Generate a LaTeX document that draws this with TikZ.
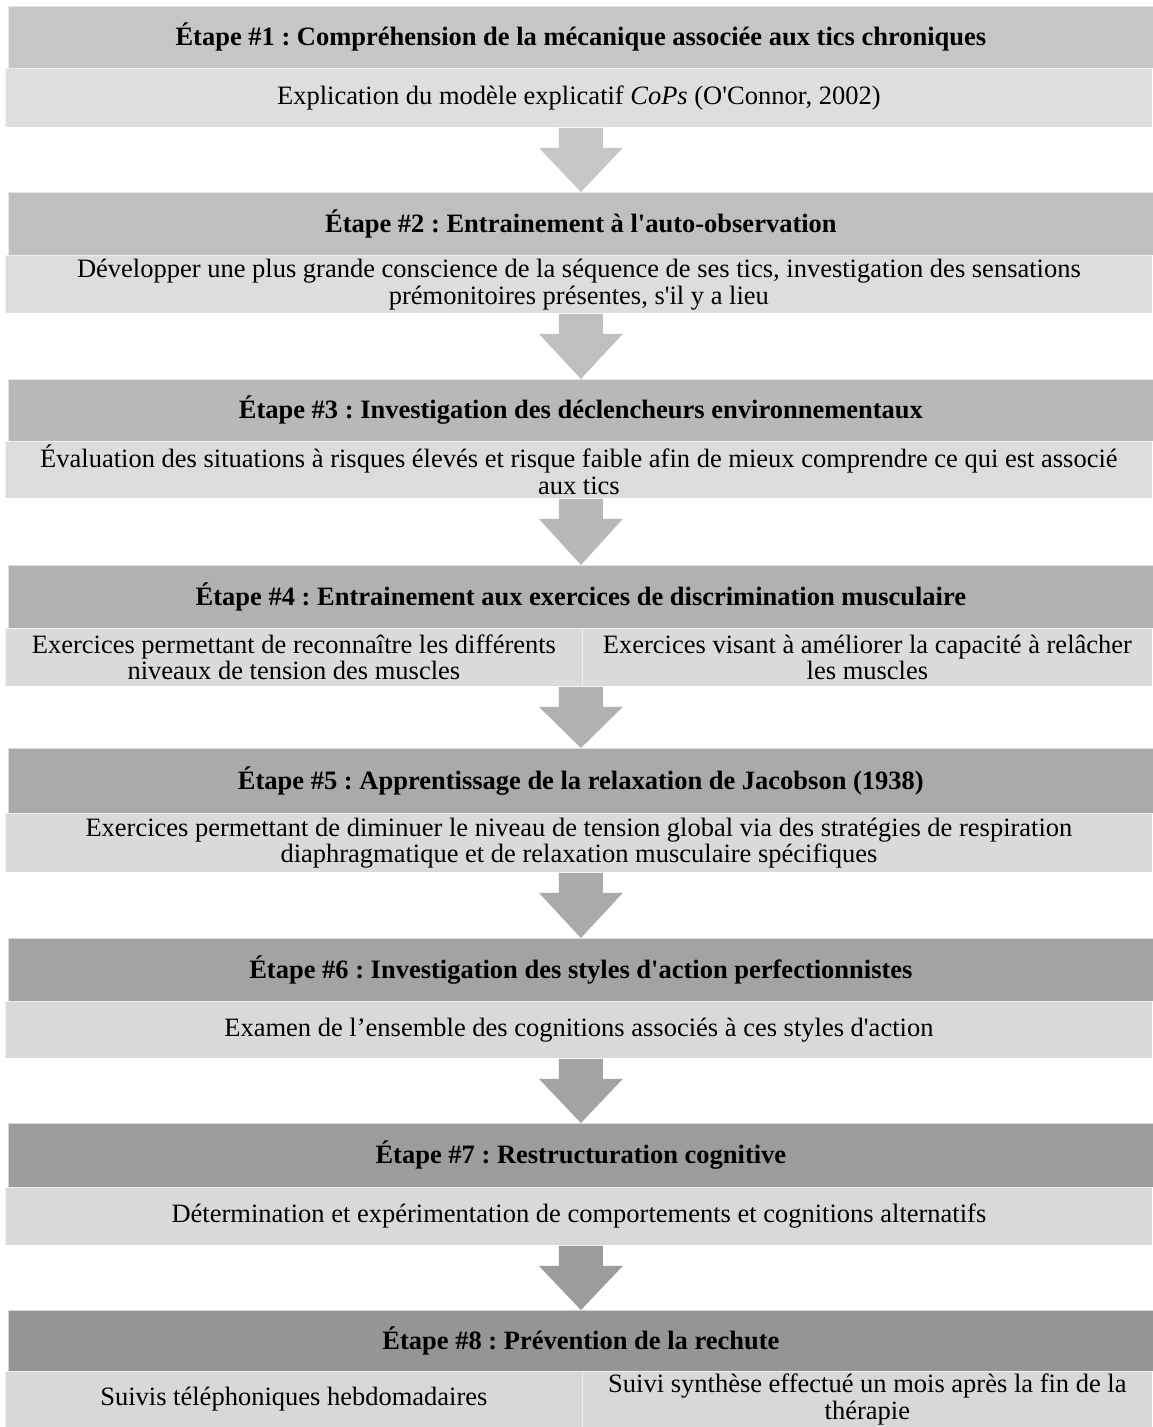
\documentclass[tikz,border=0pt]{standalone}
\usepackage{fontspec}
\setmainfont{Liberation Serif}
\usetikzlibrary{calc}
\newcommand\aposs{\textquotesingle}
% header shades, darker for each step
\definecolor{hA}{HTML}{C6C6C6}
\definecolor{hB}{HTML}{BFBFBF}
\definecolor{hC}{HTML}{B8B8B8}
\definecolor{hD}{HTML}{B1B1B1}
\definecolor{hE}{HTML}{AAAAAA}
\definecolor{hF}{HTML}{A3A3A3}
\definecolor{hG}{HTML}{9C9C9C}
\definecolor{hH}{HTML}{959595}
% body shades
\definecolor{bA}{HTML}{DEDEDE}
\definecolor{bB}{HTML}{DDDDDD}
\definecolor{bC}{HTML}{DCDCDC}
\definecolor{bD}{HTML}{DBDBDB}
\definecolor{bE}{HTML}{DADADA}
\definecolor{bF}{HTML}{D9D9D9}
\definecolor{bG}{HTML}{D9D9D9}
\definecolor{bH}{HTML}{D8D8D8}
\tikzset{
  hdr/.style={fill=#1, draw=white, draw opacity=0.6, line width=0.8pt,
    anchor=north west, inner sep=0pt, minimum width=1145pt,
    font=\fontsize{26.5}{27}\selectfont\frenchspacing\bfseries},
  bdy/.style={fill=#1, draw=white, draw opacity=0.6, line width=0.8pt,
    anchor=north west, inner sep=0pt, minimum width=1147pt, align=center,
    font=\fontsize{26.5}{26.5}\selectfont\frenchspacing},
  half/.style={bdy=#1, minimum width=577pt},
  halfr/.style={bdy=#1, minimum width=570pt},
}
% block arrow from the bottom of one row to the top of the next header
\newcommand\blockarrow[3]{%
  \fill[#3] let \p1=(#2.north |- #1.south), \p2=(#2.north) in
    (\x1-22pt,\y1) -- (\x1+22pt,\y1) -- (\x1+22pt,\y1-20pt) -- (\x1+42pt,\y1-20pt)
    -- (\p2) -- (\x1-42pt,\y1-20pt) -- (\x1-22pt,\y1-20pt) -- cycle;}
\begin{document}
\begin{tikzpicture}[x=1pt,y=-1pt]
\useasboundingbox (0,0) rectangle (1153,1427);

% Step 1
\node[hdr=hA, minimum height=62pt] (h1) at (8,6) {Étape \#1 : Compréhension de la mécanique associée aux tics chroniques};
\node[bdy=bA, minimum height=59pt] (b1) at (5,68) {Explication du modèle explicatif \textit{CoPs} (O\aposs Connor, 2002)};

% Step 2
\node[hdr=hB, minimum height=63pt] (h2) at (8,192) {Étape \#2 : Entrainement à l\aposs auto-observation};
\node[bdy=bB, minimum height=58pt] (b2) at (5,255) {Développer une plus grande conscience de la séquence de ses tics, investigation des sensations\\prémonitoires présentes, s\aposs il y a lieu};

% Step 3
\node[hdr=hC, minimum height=62pt] (h3) at (8,379) {Étape \#3 : Investigation des déclencheurs environnementaux};
\node[bdy=bC, minimum height=57pt] (b3) at (5,441) {Évaluation des situations à risques élevés et risque faible afin de mieux comprendre ce qui est associé\\aux tics};

% Step 4
\node[hdr=hD, minimum height=63pt] (h4) at (8,565) {Étape \#4 : Entrainement aux exercices de discrimination musculaire};
\node[half=bD, minimum height=58pt] (b4a) at (5,628) {Exercices permettant de reconnaître les différents\\niveaux de tension des muscles};
\node[halfr=bD, minimum height=58pt] (b4b) at (582,628) {Exercices visant à améliorer la capacité à relâcher\\les muscles};

% Step 5
\node[hdr=hE, minimum height=65pt] (h5) at (8,748) {Étape \#5 : Apprentissage de la relaxation de Jacobson (1938)};
\node[bdy=bE, minimum height=59pt] (b5) at (5,813) {Exercices permettant de diminuer le niveau de tension global via des stratégies de respiration\\diaphragmatique et de relaxation musculaire spécifiques};

% Step 6
\node[hdr=hF, minimum height=63pt] (h6) at (8,938) {Étape \#6 : Investigation des styles d\aposs action perfectionnistes};
\node[bdy=bF, minimum height=57pt] (b6) at (5,1001) {Examen de l’ensemble des cognitions associés à ces styles d\aposs action};

% Step 7
\node[hdr=hG, minimum height=64pt] (h7) at (8,1123) {Étape \#7 : Restructuration cognitive};
\node[bdy=bG, minimum height=58pt] (b7) at (5,1187) {Détermination et expérimentation de comportements et cognitions alternatifs};

% Step 8
\node[hdr=hH, minimum height=61pt] (h8) at (8,1310) {Étape \#8 : Prévention de la rechute};
\node[half=bH, minimum height=56pt] (b8a) at (5,1371) {Suivis téléphoniques hebdomadaires};
\node[halfr=bH, minimum height=56pt] (b8b) at (582,1371) {Suivi synthèse effectué un mois après la fin de la\\thérapie};

% arrows between the steps
\blockarrow{b1}{h2}{hA}
\blockarrow{b2}{h3}{hB}
\blockarrow{b3}{h4}{hC}
\blockarrow{b4a}{h5}{hD}
\blockarrow{b5}{h6}{hE}
\blockarrow{b6}{h7}{hF}
\blockarrow{b7}{h8}{hG}
\end{tikzpicture}
\end{document}
